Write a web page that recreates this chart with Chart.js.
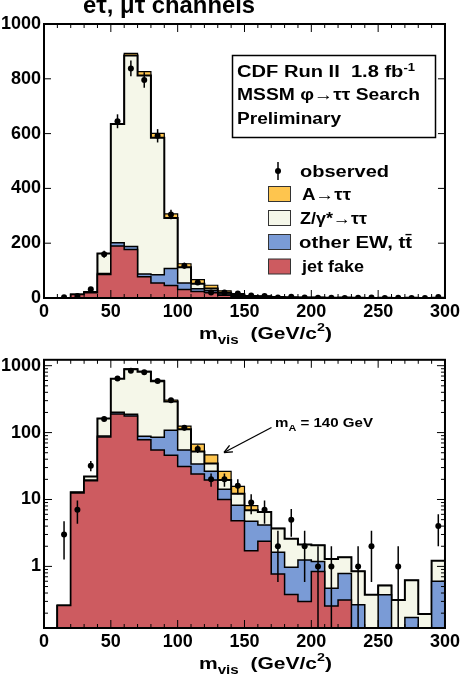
<!DOCTYPE html>
<html>
<head>
<meta charset="utf-8">
<script src="https://cdn.jsdelivr.net/npm/chart.js@4.4.0/dist/chart.umd.min.js"></script>
<style>
  html, body { margin: 0; padding: 0; background: #fff; }
  #wrap { position: relative; width: 463px; height: 679px; overflow: hidden; }
  canvas { position: absolute; left: 0; }
  #topChart { top: 0; }
  #bottomChart { top: 346px; }
</style>
</head>
<body>
<div id="wrap">
  <canvas id="topChart" width="463" height="346"></canvas>
  <canvas id="bottomChart" width="463" height="333"></canvas>
</div>
<script>
// bin edges of m_vis (GeV/c^2), 10 GeV bins
const binEdges = [0, 10, 20, 30, 40, 50, 60, 70, 80, 90, 100, 110, 120, 130, 140, 150,
                  160, 170, 180, 190, 200, 210, 220, 230, 240, 250, 260, 270, 280, 290, 300];

// stacked backgrounds, events per bin (bottom to top)
const jetFake = [0, 0.26, 12.5, 19, 86, 190, 177, 78, 55, 46, 31, 24, 19.5, 10, 4.8,
                 1.72, 2.37, 0.77, 0.38, 0.30, 0.84, 0.255, 0.315, 0, 0, 0, 0, 0, 0, 0];
const otherEW = [0, 0, 0, 0.5, 3, 12, 11, 10, 30, 62, 24, 10, 7, 4.2, 3.4,
                 3.0, 1.78, 0.85, 0.59, 0.95, 0.34, 0.215, 0.465, 0.267, 0, 0.377, 0, 0.172, 0, 0.60];
const zTauTau = [0, 0, 0.3, 2.5, 73, 433, 697, 724, 500, 184, 57, 18, 8, 5.3, 4.0,
                 2.2, 2.35, 2.08, 1.62, 0.87, 0.89, 0.82, 0.59, 0.578, 0.377, 0.143, 0.315, 0.448, 0.195, 0.61];
const aTauTau = [0, 0, 0, 0, 0, 0, 8, 14, 16, 15, 13, 15, 12, 6.8, 3.5,
                 1.2, 0.1, 0, 0, 0, 0, 0, 0, 0, 0, 0, 0, 0, 0, 0];
const observed = [null, 3, 7, 32, 160, 645, 838, 796, 592, 305, 118, 57, 20, 20, 16,
                  9, 7, 2, 5, 2, 1, 1, 0, 1, 2, 0, 1, 0, 0, 4];

const FONT = "'Liberation Sans', Arial, Helvetica, sans-serif";
Chart.defaults.font.family = FONT;
Chart.defaults.font.size = 18;
Chart.defaults.font.weight = 'bold';
Chart.defaults.color = '#000';

const colJet = '#cd5b60';
const colEW = '#7a9bd6';
const colZ = '#f5f7e9';
const colA = '#fec54e';

function sumLayers(...layers) {
  return layers[0].map((_, i) => layers.reduce((s, l) => s + l[i], 0));
}
const cumJet = jetFake.slice();
const cumEW = sumLayers(jetFake, otherEW);
const cumZ = sumLayers(jetFake, otherEW, zTauTau);
const cumAll = sumLayers(jetFake, otherEW, zTauTau, aTauTau);

function steps(vals, floor) {
  const pts = vals.map((v, i) => ({ x: binEdges[i], y: Math.max(v, floor) }));
  pts.push({ x: binEdges[vals.length], y: Math.max(vals[vals.length - 1], floor) });
  return pts;
}
function centers(vals, log) {
  return vals.map((v, i) => ({
    x: (binEdges[i] + binEdges[i + 1]) / 2,
    y: (v === null || (log && v <= 0)) ? null : v
  }));
}

function makeDatasets(log) {
  const floor = log ? 1e-3 : 0;
  const layer = (vals, color, width) => ({
    type: 'line', data: steps(vals, floor), stepped: true, fill: 'start',
    backgroundColor: color, borderColor: '#000', borderWidth: width, pointRadius: 0
  });
  return [
    { type: 'line', data: centers(observed, log), showLine: false, pointRadius: 3,
      pointBackgroundColor: '#000', pointBorderWidth: 0 },
    layer(cumJet, colJet, 1.5),
    layer(cumEW, colEW, 1.5),
    layer(cumZ, colZ, 2),
    layer(cumAll, colA, 1.2)
  ];
}

// rich text: segments with size ratio and vertical shift, stretched to a width
function drawRich(ctx, segs, x, y, size, targetW) {
  let w = 0;
  for (const s of segs) {
    ctx.font = `bold ${size * (s.s || 1)}px ${FONT}`;
    w += ctx.measureText(s.t).width;
  }
  const k = targetW ? targetW / w : 1;
  ctx.save();
  ctx.translate(x, y);
  ctx.scale(k, 1);
  ctx.fillStyle = '#000';
  ctx.textAlign = 'left';
  ctx.textBaseline = 'alphabetic';
  let cx = 0;
  for (const s of segs) {
    ctx.font = `bold ${size * (s.s || 1)}px ${FONT}`;
    ctx.fillText(s.t, cx, s.dy || 0);
    cx += ctx.measureText(s.t).width;
  }
  ctx.restore();
}

function line(ctx, x1, y1, x2, y2) {
  ctx.beginPath(); ctx.moveTo(x1, y1); ctx.lineTo(x2, y2); ctx.stroke();
}

// poisson error bars on observed points
const errorBars = {
  id: 'errorBars',
  afterDatasetsDraw(chart) {
    const { ctx, chartArea: a } = chart;
    const ys = chart.scales.y;
    const meta = chart.getDatasetMeta(0);
    ctx.save();
    ctx.beginPath(); ctx.rect(a.left, a.top, a.right - a.left, a.bottom - a.top); ctx.clip();
    ctx.strokeStyle = '#000'; ctx.lineWidth = 1.5;
    chart.data.datasets[0].data.forEach((d, i) => {
      const v = d.y;
      if (!(v > 0)) return;
      const e = Math.sqrt(v);
      const pt = meta.data[i];
      const hi = ys.getPixelForValue(v + e);
      const lo = v - e > 0 ? ys.getPixelForValue(v - e) : a.bottom;
      line(ctx, pt.x, hi, pt.x, Math.min(lo, a.bottom));
    });
    ctx.restore();
  }
};

// ROOT style frame with inward ticks
const frame = {
  id: 'frame',
  afterDraw(chart) {
    const { ctx, chartArea: a } = chart;
    const xs = chart.scales.x, ys = chart.scales.y;
    ctx.save();
    ctx.strokeStyle = '#000';
    ctx.lineWidth = 1;
    binEdges.forEach(v => {
      const px = xs.getPixelForValue(v);
      const len = v % 50 === 0 ? 8 : 4;
      line(ctx, px, a.bottom, px, a.bottom - len);
      line(ctx, px, a.top, px, a.top + len);
    });
    if (ys.type === 'logarithmic') {
      for (let d = -1; d <= 3; d++) {
        for (let m = 1; m <= 9; m++) {
          const v = m * Math.pow(10, d);
          if (v < ys.min || v > ys.max) continue;
          const py = ys.getPixelForValue(v);
          const len = m === 1 ? 8 : 4;
          line(ctx, a.left, py, a.left + len, py);
          line(ctx, a.right, py, a.right - len, py);
        }
      }
    } else {
      ys.ticks.forEach(t => {
        const py = ys.getPixelForValue(t.value);
        line(ctx, a.left, py, a.left + 7, py);
        line(ctx, a.right, py, a.right - 7, py);
      });
    }
    ctx.lineWidth = 2;
    ctx.strokeRect(a.left, a.top, a.right - a.left, a.bottom - a.top);
    ctx.restore();
  }
};

const axisTitle = [{ t: 'm' }, { t: 'vis', s: 0.72, dy: 5 }, { t: '  (GeV/c' }, { t: '2', s: 0.68, dy: -8 }, { t: ')' }];

const topText = {
  id: 'topText',
  afterDraw(chart) {
    const ctx = chart.ctx;
    drawRich(ctx, [{ t: 'e\u03c4, \u03bc\u03c4 channels' }], 83, 13, 24, 172);
    // info box
    ctx.save();
    ctx.strokeStyle = '#000'; ctx.lineWidth = 1.5;
    ctx.strokeRect(232.5, 55.5, 203, 82);
    ctx.restore();
    drawRich(ctx, [{ t: 'CDF Run II  1.8 fb' }, { t: '-1', s: 0.65, dy: -6 }], 237, 77, 16, 178);
    drawRich(ctx, [{ t: 'MSSM \u03c6\u2192\u03c4\u03c4 Search' }], 237, 100, 16, 183);
    drawRich(ctx, [{ t: 'Preliminary' }], 237, 124, 16, 104);
    // legend
    ctx.save();
    ctx.fillStyle = '#000'; ctx.strokeStyle = '#000'; ctx.lineWidth = 1.5;
    line(ctx, 278, 162, 278, 180);
    ctx.beginPath(); ctx.arc(278, 171, 3, 0, Math.PI * 2); ctx.fill();
    const items = [[colA, 194], [colZ, 218], [colEW, 242], [colJet, 266.5]];
    ctx.lineWidth = 1; ctx.strokeStyle = '#333';
    items.forEach(([c, cy]) => {
      ctx.fillStyle = c;
      ctx.fillRect(268.5, cy - 7.5, 22, 15);
      ctx.strokeRect(268.5, cy - 7.5, 22, 15);
    });
    ctx.restore();
    drawRich(ctx, [{ t: 'observed' }], 300, 176.5, 16, 89);
    drawRich(ctx, [{ t: 'A\u2192\u03c4\u03c4' }], 302, 199.5, 16, 49);
    drawRich(ctx, [{ t: 'Z/\u03b3*\u2192\u03c4\u03c4' }], 300, 223.5, 16, 67);
    drawRich(ctx, [{ t: 'other EW, tt\u0304' }], 299, 247.5, 16, 113);
    drawRich(ctx, [{ t: 'jet fake' }], 302, 272, 16, 62);
    drawRich(ctx, axisTitle, 199, 339, 17, 133);
  }
};

const bottomText = {
  id: 'bottomText',
  afterDraw(chart) {
    const ctx = chart.ctx;
    drawRich(ctx, [{ t: 'm' }, { t: 'A', s: 0.72, dy: 4 }, { t: ' = 140 GeV' }], 275, 81, 13, 98);
    ctx.save();
    ctx.strokeStyle = '#000'; ctx.lineWidth = 1.3;
    const x1 = 271.5, y1 = 81.5, x2 = 224, y2 = 106.5;
    line(ctx, x1, y1, x2, y2);
    const ang = Math.atan2(y1 - y2, x1 - x2);
    [0.42, -0.42].forEach(d => line(ctx, x2, y2, x2 + 9 * Math.cos(ang + d), y2 + 9 * Math.sin(ang + d)));
    ctx.restore();
    drawRich(ctx, axisTitle, 199, 323, 17, 133);
  }
};

function xScale(height) {
  return {
    type: 'linear', min: 0, max: 300,
    grid: { display: false, drawTicks: false }, border: { display: false },
    ticks: { stepSize: 50, padding: 3, maxRotation: 0, autoSkip: false, callback: v => String(v) },
    afterFit: s => { s.height = height; }
  };
}

new Chart(document.getElementById('topChart'), {
  type: 'line',
  data: { datasets: makeDatasets(false) },
  options: {
    responsive: false, animation: false, devicePixelRatio: 1,
    layout: { padding: { top: 24, right: 15, left: 0, bottom: 0 } },
    plugins: { legend: { display: false }, tooltip: { enabled: false } },
    scales: {
      x: xScale(48),
      y: {
        type: 'linear', min: 0, max: 1000,
        grid: { display: false, drawTicks: false }, border: { display: false },
        ticks: { stepSize: 200, padding: 3, callback: v => String(v) },
        afterFit: s => { s.width = 44; }
      }
    }
  },
  plugins: [errorBars, frame, topText]
});

new Chart(document.getElementById('bottomChart'), {
  type: 'line',
  data: { datasets: makeDatasets(true) },
  options: {
    responsive: false, animation: false, devicePixelRatio: 1,
    layout: { padding: { top: 8, right: 15, left: 0, bottom: 0 } },
    plugins: { legend: { display: false }, tooltip: { enabled: false } },
    scales: {
      x: xScale(51),
      y: {
        type: 'logarithmic', min: 0.12, max: 1224,
        grid: { display: false, drawTicks: false }, border: { display: false },
        ticks: {
          padding: 3, autoSkip: false,
          callback: v => {
            const l = Math.log10(v);
            return (v >= 1 && Math.abs(l - Math.round(l)) < 1e-6) ? String(Math.round(v)) : '';
          }
        },
        afterFit: s => { s.width = 44; }
      }
    }
  },
  plugins: [errorBars, frame, bottomText]
});
</script>
</body>
</html>
